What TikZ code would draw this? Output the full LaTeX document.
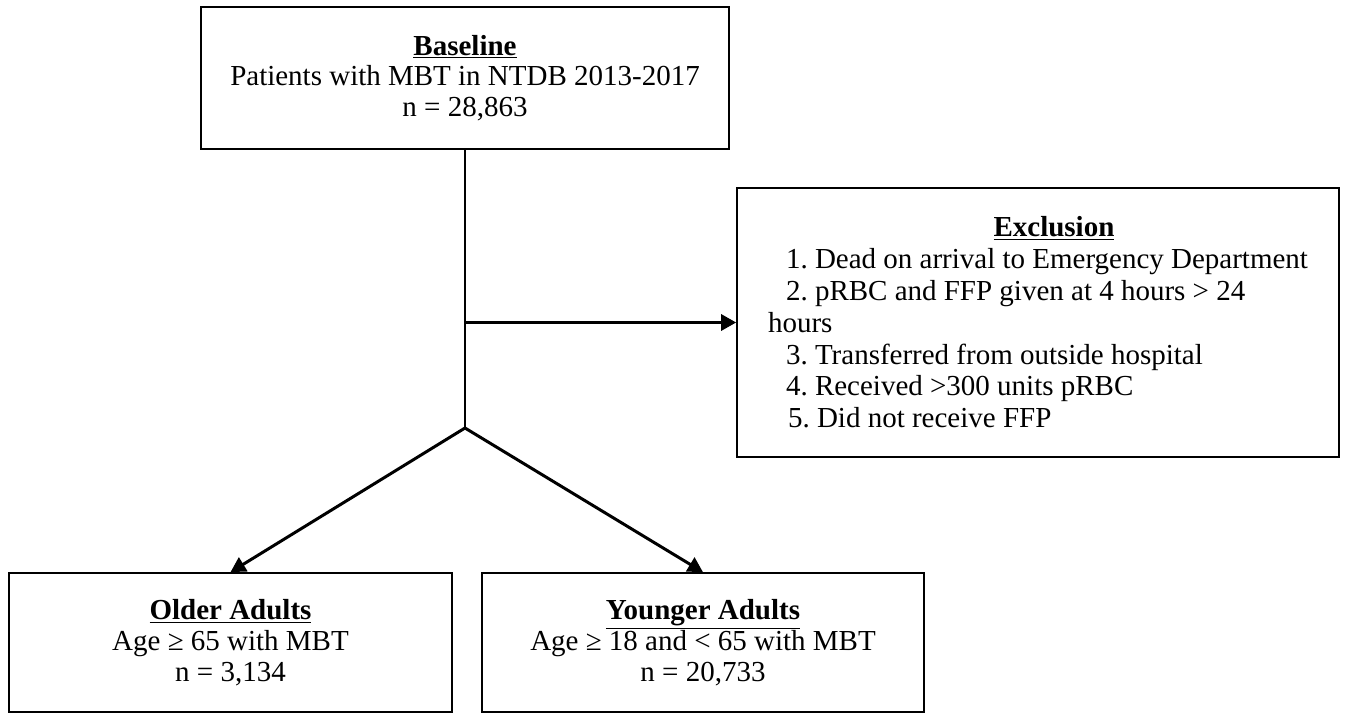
\documentclass[tikz,border=0pt]{standalone}
\usepackage{fontspec}
\setmainfont{Liberation Serif}
\usetikzlibrary{arrows.meta}
\newcommand{\boxtitle}[1]{\underline{\textbf{#1}}}
\frenchspacing

\begin{document}
\begin{tikzpicture}[x=0.02cm, y=-0.02cm,
  every node/.style={font=\fontsize{16.5}{17.5}\selectfont},
  flowbox/.style={draw, line width=1pt, align=center, inner sep=0pt},
  flowline/.style={line width=1.7pt, -{Triangle[length=3mm,width=3.2mm]}}]
\useasboundingbox (0,0) rectangle (1346,713);

\node[flowbox, minimum width=10.56cm, minimum height=2.84cm] (baseline) at (465,78)
  {\boxtitle{Baseline}\\ Patients with MBT in NTDB 2013-2017\\ n = 28,863};

\node[flowbox, align=left, minimum width=12.04cm, minimum height=5.38cm,
  font=\fontsize{16.5}{18.1}\selectfont] (exclusion) at (1038,322.5)
  {\makebox[10.8cm]{\hspace{0.64cm}\boxtitle{Exclusion}}\\
   \hspace*{0.36cm}1. Dead on arrival to Emergency Department\\
   \hspace*{0.36cm}2. pRBC and FFP given at 4 hours > 24\\
   hours\\
   \hspace*{0.36cm}3. Transferred from outside hospital\\
   \hspace*{0.36cm}4. Received >300 units pRBC\\
   \hspace*{0.40cm}5. Did not receive FFP};

\node[flowbox, minimum width=8.86cm, minimum height=2.78cm] (older) at (230.5,642.5)
  {\boxtitle{Older Adults}\\ Age ≥ 65 with MBT\\ n = 3,134};

\node[flowbox, minimum width=8.84cm, minimum height=2.78cm] (younger) at (703,642.5)
  {\boxtitle{Younger Adults}\\ Age ≥ 18 and < 65 with MBT\\ n = 20,733};

% connectors
\coordinate (split) at (exclusion.west -| baseline.south);
\coordinate (branch) at (465,428);
\draw[line width=1pt] (baseline.south) -- (branch);
\draw[flowline] (split) -- (exclusion.west);
\draw[flowline] (branch) -- (older.north);
\draw[flowline] (branch) -- (younger.north);
\end{tikzpicture}
\end{document}
